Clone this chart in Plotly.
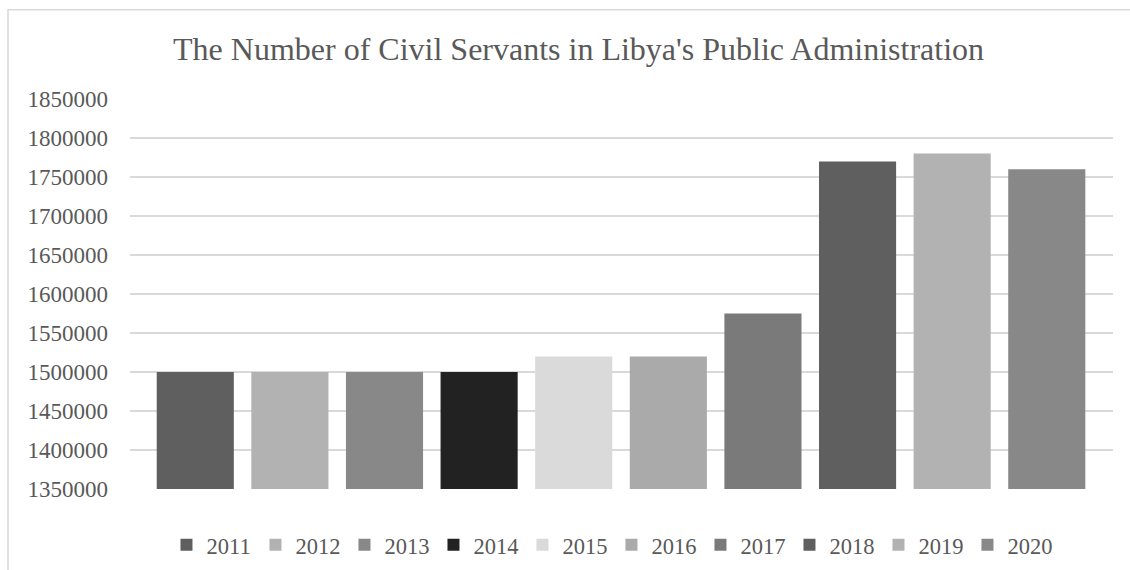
import plotly.graph_objects as go

# Civil servants per year in Libya's public administration
years = ["2011", "2012", "2013", "2014", "2015", "2016", "2017", "2018", "2019", "2020"]
servants = [1500000, 1500000, 1500000, 1500000, 1520000, 1520000, 1575000, 1770000, 1780000, 1760000]
bar_colors = ["#5f5f5f", "#b2b2b2", "#888888", "#222222", "#dadada",
              "#aaaaaa", "#7a7a7a", "#5f5f5f", "#b2b2b2", "#888888"]

y_ticks = list(range(1350000, 1850001, 50000))

text_color = "#595959"
serif = "Liberation Serif, Times New Roman, serif"

fig = go.Figure()
for yr, val, col in zip(years, servants, bar_colors):
    fig.add_trace(go.Bar(
        x=[yr], y=[val], name=yr,
        marker=dict(color=col, line=dict(width=0)),
    ))

fig.update_layout(
    width=1130, height=570,
    margin=dict(l=130, r=17, t=99, b=81, autoexpand=False),
    paper_bgcolor="white", plot_bgcolor="white",
    barmode="overlay", bargap=0.185,
    font=dict(family=serif, color=text_color),
    title=dict(
        text="The Number of Civil Servants in Libya's Public Administration",
        x=0.512, xref="container", xanchor="center",
        y=0.914, yref="container", yanchor="middle",
        font=dict(size=32, family=serif, color=text_color),
    ),
    xaxis=dict(showticklabels=False, showgrid=False, zeroline=False,
               showline=False, ticks="", range=[-0.69, 9.7]),
    yaxis=dict(range=[1350000, 1850000], tickvals=y_ticks, tickformat="d",
               showgrid=True, gridcolor="#d9d9d9", gridwidth=1.5,
               zeroline=False, showline=False, ticks="",
               ticklabelstandoff=21,
               tickfont=dict(size=23, family=serif, color=text_color)),
    legend=dict(orientation="h", x=0.4898, xanchor="center",
                y=-0.144, yanchor="middle",
                font=dict(size=22.5, family=serif, color=text_color),
                entrywidth=44, entrywidthmode="pixels",
                bgcolor="rgba(0,0,0,0)"),
    showlegend=True,
    shapes=[dict(type="rect", xref="paper", yref="paper",
                 x0=-0.1241, x1=1.06, y0=-0.25, y1=1.229,
                 line=dict(color="#d9d9d9", width=1.5), fillcolor="rgba(0,0,0,0)",
                 layer="below")],
)

fig.write_html("out.html")
